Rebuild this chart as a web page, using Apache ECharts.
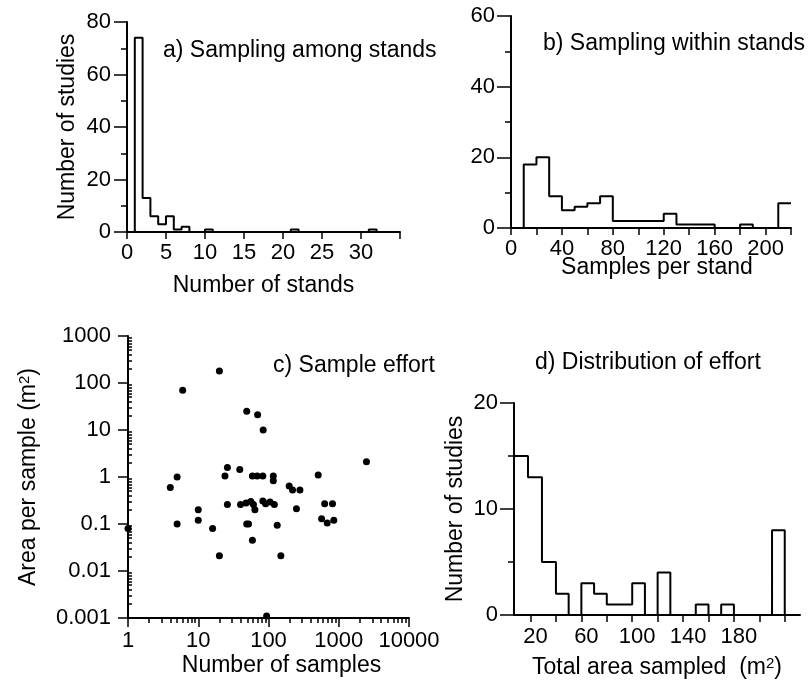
<!DOCTYPE html>
<html>
<head>
<meta charset="utf-8">
<title>Sampling effort</title>
<script src="https://cdn.jsdelivr.net/npm/echarts@6/dist/echarts.min.js"></script>
<style>
html, body { margin: 0; padding: 0; background: #fff; }
#chart { width: 812px; height: 685px; }
</style>
</head>
<body>
<div id="chart"></div>
<script>
// a) stands per study (bin edges, count per bin)
var standEdges = [1, 2, 3, 4, 5, 6, 7, 8, 10, 11, 21, 22, 31, 32];
var standCounts = [74, 13, 6, 3, 6, 1, 2, 0, 1, 0, 1, 0, 1];

// b) samples per stand
var sampleEdges = [10, 20, 30, 40, 50, 60, 70, 80, 120, 130, 160, 180, 190, 210, 220];
var sampleCounts = [18, 20, 9, 5, 6, 7, 9, 2, 4, 1, 0, 1, 0, 7];

// c) number of samples / area per sample (m2)
var effortSamples = [1, 4, 5, 5, 6, 10, 10, 16, 20, 20, 24, 26, 26, 39, 40, 48, 49, 49, 52, 56,
	59, 59, 61, 64, 69, 70, 83, 83, 84, 91, 94, 105, 117, 117, 121, 133, 150, 197, 220, 250,
	280, 510, 570, 630, 685, 815, 850, 2480];
var effortArea = [0.08, 0.6, 1.0, 0.1, 70, 0.2, 0.12, 0.08, 180, 0.021, 1.05, 1.6, 0.26, 1.45, 0.26, 0.28, 25, 0.1, 0.1, 0.3,
	1.05, 0.045, 0.26, 0.2, 1.05, 21, 1.05, 0.31, 10, 0.27, 0.0011, 0.295, 1.05, 0.83, 0.26, 0.094, 0.021, 0.64, 0.53, 0.21,
	0.53, 1.1, 0.13, 0.27, 0.105, 0.27, 0.12, 2.1];

// d) total area sampled (m2)
var areaEdges = [7, 18, 29, 40, 50, 60, 70, 80, 100, 110, 120, 130, 150, 160, 170, 180, 210, 220];
var areaCounts = [15, 13, 5, 2, 0, 3, 2, 1, 3, 0, 4, 0, 1, 0, 1, 0, 8];

// tick labels
var logXTicks = [1, 10, 100, 1000, 10000];
var logYTicks = [0.001, 0.01, 0.1, 1, 10, 100, 1000];
var areaTicks = [20, 40, 60, 80, 100, 120, 140, 160, 180, 200, 220];
var areaLabels = [20, 60, 100, 140, 180];

var font = "'Liberation Sans', Arial, Helvetica, sans-serif";
var ink = '#000';

function minorLog(ticks) {
	var out = [];
	for (var i = 0; i < ticks.length - 1; i++) {
		for (var k = 2; k <= 9; k++) {
			out.push(+(ticks[i] * k).toPrecision(3));
		}
	}
	return out;
}

// outline of a histogram, drawn as one polyline
function outline(edges, counts, closeEnd) {
	var pts = [[edges[0], 0]];
	for (var i = 0; i < counts.length; i++) {
		pts.push([edges[i], counts[i]]);
		pts.push([edges[i + 1], counts[i]]);
	}
	if (closeEnd) {
		pts.push([edges[edges.length - 1], 0]);
	}
	return pts;
}

function axis(grid, min, max) {
	return {
		gridIndex: grid,
		type: 'value',
		min: min,
		max: max,
		splitLine: {show: false},
		axisLine: {show: true, onZero: false, lineStyle: {color: ink, width: 2}},
		axisTick: {show: true, inside: false, length: 7, lineStyle: {color: ink, width: 1.5}},
		axisLabel: {color: ink, fontSize: 22, fontFamily: font, margin: 10},
		nameLocation: 'middle',
		nameMoveOverlap: false,
		nameTextStyle: {color: ink, fontSize: 23, fontFamily: font,
			rich: {sup: {fontSize: 15, fontFamily: font, color: ink, verticalAlign: 'top'}}}
	};
}

function histo(xi, pts) {
	return {
		type: 'line',
		xAxisIndex: xi,
		yAxisIndex: xi,
		data: pts,
		symbol: 'none',
		lineStyle: {color: ink, width: 2},
		animation: false
	};
}

var ax = [], ay = [];

// a
var x0 = axis(0, 0, 35);
x0.interval = 5;
x0.axisLabel.formatter = function(v) { return v > 30 ? '' : v; };
x0.name = 'Number of stands';
x0.nameGap = 42;
var y0 = axis(0, 0, 80);
y0.interval = 20;
y0.axisTick.length = 13;
y0.minorTick = {show: true, splitNumber: 2, length: 6, lineStyle: {color: ink, width: 1.5}};
y0.axisLabel.margin = 16;
y0.name = 'Number of studies';
y0.nameGap = 48;

// b
var x1 = axis(1, 0, 220);
x1.interval = 20;
x1.axisLabel.formatter = function(v) { return v % 40 === 0 && v < 220 ? v : ''; };
x1.name = 'Samples per stand';
x1.nameGap = 28;
x1.nameTextStyle.padding = [0, 0, 0, 12];
var y1 = axis(1, 0, 60);
y1.interval = 20;
y1.axisTick.length = 14;
y1.minorTick = {show: true, splitNumber: 2, length: 6, lineStyle: {color: ink, width: 1.5}};
y1.axisLabel.margin = 16;

// c
var x2 = axis(2, 1, 10000);
x2.type = 'log';
x2.logBase = 10;
x2.axisTick.customValues = logXTicks;
x2.axisTick.length = 9;
x2.axisLabel.customValues = logXTicks;
x2.axisLabel.margin = 12;
x2.axisLabel.formatter = function(v) { return String(+(+v).toPrecision(3)); };
x2.name = 'Number of samples';
x2.nameGap = 36;
x2.nameTextStyle.padding = [0, 0, 0, 26];
var y2 = axis(2, 0.001, 1000);
y2.type = 'log';
y2.logBase = 10;
y2.axisTick.customValues = logYTicks;
y2.axisTick.length = 10;
y2.axisLabel.customValues = logYTicks;
y2.axisLabel.margin = 17;
y2.axisLabel.formatter = function(v) { return String(+(+v).toPrecision(3)); };
y2.name = 'Area per sample (m{sup|2})';
y2.nameGap = 88;

// d
var x3 = axis(3, 7, 232);
x3.axisTick.customValues = areaTicks;
x3.axisLabel.customValues = areaLabels;
x3.axisLabel.margin = 11;
x3.axisLabel.padding = [0, 0, 0, 10];
x3.name = 'Total area sampled  (m{sup|2})';
x3.nameGap = 41;
var y3 = axis(3, 0, 20);
y3.interval = 10;
y3.axisTick.length = 14;
y3.minorTick = {show: true, splitNumber: 2, length: 6, lineStyle: {color: ink, width: 1.5}};
y3.axisLabel.margin = 16;
y3.name = 'Number of studies';
y3.nameGap = 47;

// minor log ticks for c, laid over the main axes
var x4 = axis(2, 1, 10000);
x4.type = 'log';
x4.logBase = 10;
x4.position = 'bottom';
x4.axisLine.show = false;
x4.axisLabel.show = false;
x4.axisTick.customValues = minorLog(logXTicks);
x4.axisTick.length = 5;
var y4 = axis(2, 0.001, 1000);
y4.type = 'log';
y4.logBase = 10;
y4.position = 'left';
y4.axisLine.show = false;
y4.axisLabel.show = false;
y4.axisTick.customValues = minorLog(logYTicks);
y4.axisTick.inside = true;
y4.axisTick.length = 4;

ax = [x0, x1, x2, x3, x4];
ay = [y0, y1, y2, y3, y4];

var title = function(t, l, top) {
	return {text: t, left: l, top: top, padding: 0,
		textStyle: {color: ink, fontSize: 23, fontWeight: 'normal', fontFamily: font}};
};

var points = [];
for (var i = 0; i < effortSamples.length; i++) {
	points.push([effortSamples[i], effortArea[i]]);
}

var chart = echarts.init(document.getElementById('chart'));
chart.setOption({
	animation: false,
	backgroundColor: '#fff',
	title: [
		title('a) Sampling among stands', 163, 39),
		title('b) Sampling within stands', 543, 32),
		title('c) Sample effort', 273, 354),
		title('d) Distribution of effort', 535, 351)
	],
	grid: [
		{left: 127, top: 22, width: 273, height: 210},
		{left: 511, top: 16, width: 280, height: 212},
		{left: 128, top: 336, width: 281, height: 282},
		{left: 514, top: 403, width: 286, height: 212}
	],
	xAxis: ax,
	yAxis: ay,
	series: [
		histo(0, outline(standEdges, standCounts, true)),
		histo(1, outline(sampleEdges, sampleCounts, false)),
		{
			type: 'scatter',
			xAxisIndex: 2,
			yAxisIndex: 2,
			data: points,
			symbolSize: 7,
			itemStyle: {color: ink, opacity: 1},
			clip: false
		},
		histo(3, outline(areaEdges, areaCounts, true))
	]
});
</script>
</body>
</html>
